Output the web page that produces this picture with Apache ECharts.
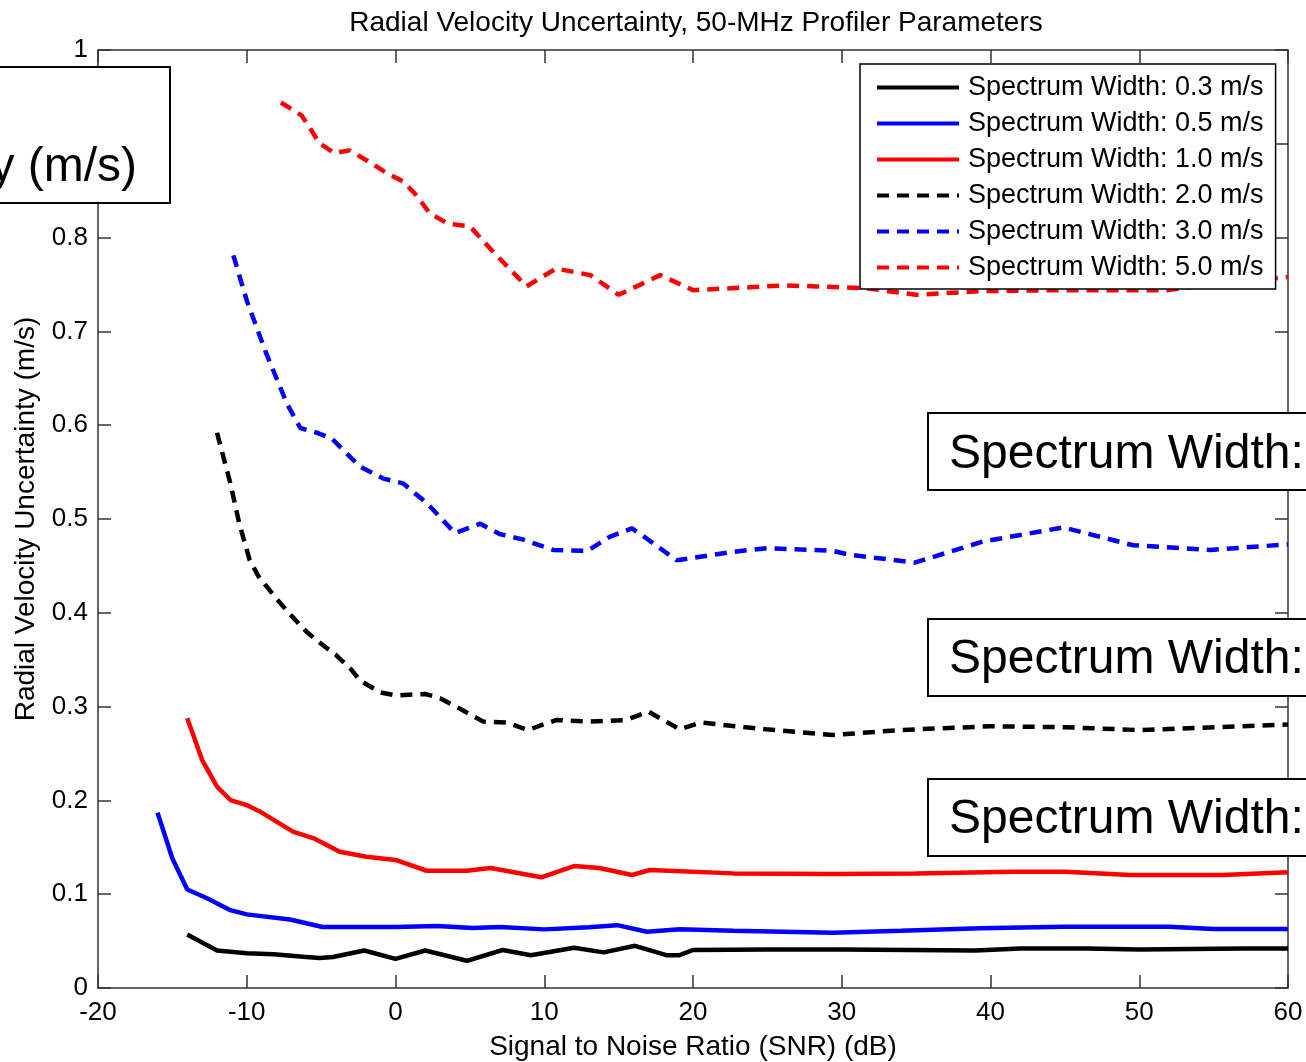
<!DOCTYPE html>
<html>
<head>
<meta charset="utf-8">
<script src="https://cdn.jsdelivr.net/npm/echarts@6/dist/echarts.min.js"></script>
<style>
html,body{margin:0;padding:0;background:#fff;}
#chart{width:1306px;height:1062px;}
</style>
</head>
<body>
<div id="chart"></div>
<script>
// ---- data ----
const xTicks = [-20, -10, 0, 10, 20, 30, 40, 50, 60];
const yTicks = [0, 0.1, 0.2, 0.3, 0.4, 0.5, 0.6, 0.7, 0.8, 0.9, 1];

const sw03X = [-14, -12, -10, -8.2, -6.2, -5.1, -4.2, -2.1, 0, 2, 4.8, 7.2, 9.1, 12, 14, 16.1, 18.2, 19.1, 20, 25, 30, 39, 42, 46.5, 50, 57, 60];
const sw03Y = [0.057, 0.040, 0.037, 0.036, 0.0334, 0.032, 0.033, 0.040, 0.031, 0.040, 0.029, 0.0405, 0.035, 0.043, 0.038, 0.045, 0.035, 0.035, 0.0405, 0.041, 0.041, 0.040, 0.042, 0.042, 0.041, 0.042, 0.042];

const sw05X = [-16, -15, -14, -12.7, -11.1, -10, -7.1, -4.9, 0, 2.8, 5.2, 7, 10, 13, 14.9, 16.9, 19.1, 22.7, 29.4, 34, 39.3, 45, 52, 55, 60];
const sw05Y = [0.187, 0.138, 0.105, 0.096, 0.083, 0.0785, 0.073, 0.065, 0.065, 0.066, 0.064, 0.065, 0.0625, 0.0647, 0.067, 0.060, 0.0626, 0.061, 0.059, 0.061, 0.0636, 0.0654, 0.0654, 0.063, 0.063];

const sw10X = [-14, -13, -12, -11.1, -10, -9.1, -6.9, -5.5, -3.75, -1.95, 0, 2.1, 4.8, 6.4, 9.8, 12, 13.7, 15.9, 17.1, 22.7, 29.4, 35, 41.5, 45, 49.4, 55.6, 60];
const sw10Y = [0.2875, 0.243, 0.2146, 0.2004, 0.195, 0.188, 0.1667, 0.1596, 0.1453, 0.140, 0.1365, 0.125, 0.125, 0.128, 0.118, 0.130, 0.128, 0.1205, 0.1258, 0.1222, 0.1215, 0.122, 0.124, 0.124, 0.1205, 0.1205, 0.1233];

const sw20X = [-12, -11.1, -10.5, -9.8, -9.2, -8, -7, -6, -5, -4, -3, -2.4, -1, 0, 2, 3, 4.3, 5.9, 7.5, 8.9, 10.8, 12.9, 15.5, 17, 19.1, 20.5, 24.9, 29.4, 33.9, 40, 45, 50, 55, 60];
const sw20Y = [0.592, 0.538, 0.495, 0.456, 0.4385, 0.415, 0.397, 0.380, 0.367, 0.355, 0.340, 0.328, 0.315, 0.312, 0.3134, 0.309, 0.298, 0.284, 0.283, 0.275, 0.2857, 0.284, 0.2857, 0.2946, 0.2758, 0.283, 0.2758, 0.2697, 0.275, 0.279, 0.278, 0.275, 0.278, 0.281];

const sw30X = [-10.9, -10, -8.7, -7.3, -6.4, -5.3, -4.3, -2.4, -0.8, 0.5, 2.1, 4.0, 5.7, 7.0, 8.6, 10.6, 12.9, 14.4, 15.9, 16.9, 18.9, 22.7, 25, 29.4, 30.5, 34.9, 39.5, 44.9, 49.6, 54.8, 60];
const sw30Y = [0.781, 0.733, 0.677, 0.623, 0.597, 0.592, 0.586, 0.556, 0.543, 0.538, 0.517, 0.485, 0.495, 0.484, 0.478, 0.467, 0.466, 0.481, 0.490, 0.479, 0.456, 0.465, 0.469, 0.466, 0.462, 0.4535, 0.476, 0.491, 0.472, 0.467, 0.473];

const sw50X = [-7.7, -6.3, -5.1, -4.1, -3.1, -1.9, -0.5, 0.5, 1.3, 2.3, 3.5, 5.0, 6.5, 8.8, 10.8, 13.1, 15.0, 17.8, 20.0, 23.8, 26.1, 28.3, 31.7, 35.0, 39.5, 45, 51.9, 55, 60];
const sw50Y = [0.944, 0.930, 0.9005, 0.890, 0.893, 0.882, 0.868, 0.860, 0.847, 0.826, 0.815, 0.812, 0.786, 0.748, 0.767, 0.760, 0.739, 0.760, 0.744, 0.747, 0.749, 0.748, 0.746, 0.739, 0.743, 0.744, 0.744, 0.750, 0.758];

const seriesNames = [
  'Spectrum Width: 0.3 m/s', 'Spectrum Width: 0.5 m/s', 'Spectrum Width: 1.0 m/s',
  'Spectrum Width: 2.0 m/s', 'Spectrum Width: 3.0 m/s', 'Spectrum Width: 5.0 m/s'
];
const titleText = 'Radial Velocity Uncertainty, 50-MHz Profiler Parameters';
const xName = 'Signal to Noise Ratio (SNR) (dB)';
const yName = 'Radial Velocity Uncertainty (m/s)';
const overlayLeftText = 'y (m/s)';
const overlayRightText = 'Spectrum Width:';

// ---- build ----
const FONT = '"Liberation Sans", Arial, Helvetica, sans-serif';
const zip = (xs, ys) => xs.map((x, i) => [x, ys[i]]);
const seriesDefs = [
  [sw03X, sw03Y, '#000000', 'solid'],
  [sw05X, sw05Y, '#0000ff', 'solid'],
  [sw10X, sw10Y, '#ff0000', 'solid'],
  [sw20X, sw20Y, '#000000', [12, 8]],
  [sw30X, sw30Y, '#0000ff', [12, 8]],
  [sw50X, sw50Y, '#ff0000', [12, 8]]
];

const axisCol = '#333333';
function xAxisCfg(pos, showLabel) {
  return {
    type: 'value', position: pos, min: xTicks[0], max: xTicks[xTicks.length - 1], interval: 10,
    axisLine: { show: true, onZero: false, lineStyle: { color: axisCol, width: 1.5 } },
    axisTick: { show: true, inside: true, length: 13, lineStyle: { color: axisCol, width: 1.5 } },
    axisLabel: { show: showLabel, fontSize: 26, color: '#000', fontFamily: FONT, margin: 12 },
    splitLine: { show: false }
  };
}
function yAxisCfg(pos, showLabel) {
  return {
    type: 'value', position: pos, min: yTicks[0], max: yTicks[yTicks.length - 1], interval: 0.1,
    axisLine: { show: true, onZero: false, lineStyle: { color: axisCol, width: 1.5 } },
    axisTick: { show: true, inside: true, length: 13, lineStyle: { color: axisCol, width: 1.5 } },
    axisLabel: {
      show: showLabel, fontSize: 26, color: '#000', fontFamily: FONT, margin: 10,
      formatter: v => (Math.abs(v) < 1e-9 ? '0' : Math.abs(v - 1) < 1e-9 ? '1' : v.toFixed(1))
    },
    splitLine: { show: false }
  };
}

const xBottom = xAxisCfg('bottom', true);
xBottom.name = xName;
xBottom.nameLocation = 'middle';
xBottom.nameGap = 45;
xBottom.nameTextStyle = { fontSize: 28, color: '#000', fontFamily: FONT };
const yLeft = yAxisCfg('left', true);
yLeft.name = yName;
yLeft.nameLocation = 'middle';
yLeft.nameGap = 58;
yLeft.nameTextStyle = { fontSize: 28, color: '#000', fontFamily: FONT };

function boxWithText(x, y, w, h, text, tx, ty, align) {
  return [
    { type: 'rect', z: 100, shape: { x: x, y: y, width: w, height: h },
      style: { fill: '#fff', stroke: '#000', lineWidth: 2 } },
    { type: 'text', z: 101, x: tx, y: ty,
      style: { text: text, fontSize: 48, fontFamily: FONT, fill: '#000',
               align: align, verticalAlign: 'middle', textAlign: align, textVerticalAlign: 'middle' } }
  ];
}

const option = {
  animation: false,
  backgroundColor: '#fff',
  textStyle: { fontFamily: FONT },
  title: {
    text: titleText, left: 691, top: 4, textAlign: 'center',
    textStyle: { fontSize: 28, fontWeight: 'normal', color: '#000', fontFamily: FONT }
  },
  grid: { left: 98, right: 18, top: 50, bottom: 74, containLabel: false, outerBoundsMode: 'none' },
  xAxis: [xBottom, xAxisCfg('top', false)],
  yAxis: [yLeft, yAxisCfg('right', false)],
  legend: {
    orient: 'vertical', left: 860, top: 64, z: 10,
    backgroundColor: '#fff', borderColor: '#000', borderWidth: 1.5,
    padding: [10, 12, 8, 15],
    itemWidth: 82, itemHeight: 14, itemGap: 9,
    itemStyle: { opacity: 0 },
    lineStyle: { width: 4 },
    textStyle: { fontSize: 27, lineHeight: 26, color: '#000', fontFamily: FONT, padding: [0, 0, 0, 4] },
    data: seriesNames
  },
  series: seriesDefs.map((d, i) => ({
    name: seriesNames[i], type: 'line', xAxisIndex: 0, yAxisIndex: 0,
    data: zip(d[0], d[1]), showSymbol: false, symbol: 'none', smooth: false,
    lineStyle: { color: d[2], width: 4.5, type: d[3] },
    itemStyle: { color: d[2] }
  })),
  graphic: [].concat(
    boxWithText(-10, 67, 180, 136, overlayLeftText, 137, 168, 'right'),
    boxWithText(928, 413, 382, 77, overlayRightText, 949, 455, 'left'),
    boxWithText(928, 619, 382, 77, overlayRightText, 949, 660, 'left'),
    boxWithText(928, 779, 382, 77, overlayRightText, 949, 820, 'left')
  )
};

const chart = echarts.init(document.getElementById('chart'), null, { renderer: 'canvas' });
chart.setOption(option);
</script>
</body>
</html>
